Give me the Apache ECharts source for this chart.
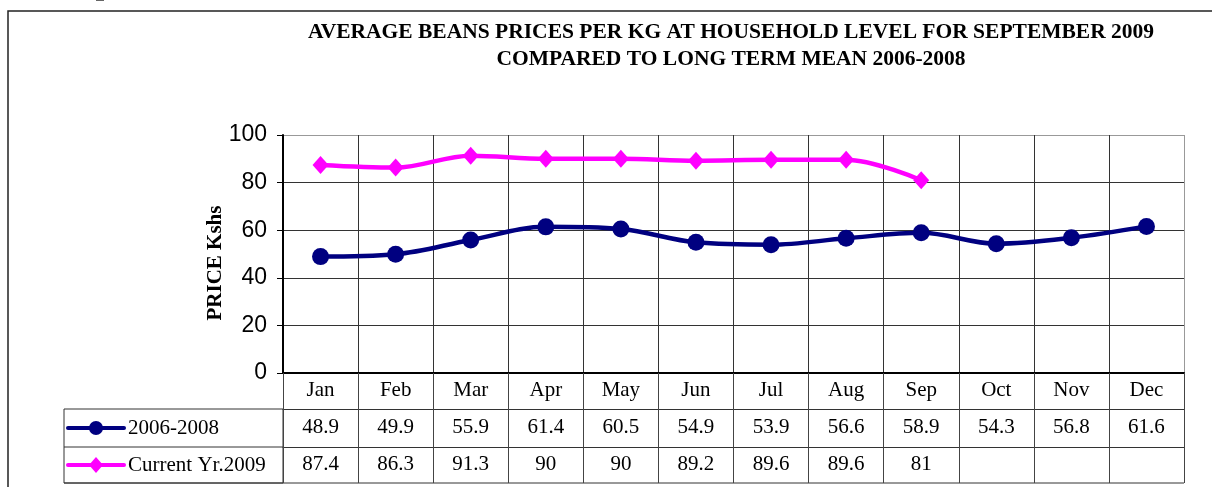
<!DOCTYPE html>
<html>
<head>
<meta charset="utf-8">
<script src="https://cdn.jsdelivr.net/npm/echarts@6/dist/echarts.min.js"></script>
<style>
  html, body { margin: 0; padding: 0; background: #fff; }
  #chart { width: 1212px; height: 487px; }
</style>
</head>
<body>
<div id="chart"></div>
<script>
// chart data
var months = ['Jan', 'Feb', 'Mar', 'Apr', 'May', 'Jun', 'Jul', 'Aug', 'Sep', 'Oct', 'Nov', 'Dec']
var longTerm = [48.9, 49.9, 55.9, 61.4, 60.5, 54.9, 53.9, 56.6, 58.9, 54.3, 56.8, 61.6]
var current2009 = [87.4, 86.3, 91.3, 90, 90, 89.2, 89.6, 89.6, 81]
var yTicks = [0, 20, 40, 60, 80, 100]
var seriesNames = ['2006-2008', 'Current Yr.2009']
var titleLines = ['AVERAGE BEANS PRICES PER KG AT HOUSEHOLD LEVEL FOR SEPTEMBER 2009',
                  'COMPARED TO LONG TERM MEAN 2006-2008']

var serif = "'Liberation Serif', 'Times New Roman', serif"
var sans = "'Liberation Sans', Arial, sans-serif"
var navy = '#000080', magenta = '#ff00ff'

var myChart = echarts.init(document.getElementById('chart'))

// plot area and table rows
var gl = 283, gt = 135, gr = 1184, gb = 373
var rowH = [36, 38, 36]
var row1Mid = gb + rowH[0] + rowH[1] / 2
var row2Mid = gb + rowH[0] + rowH[1] + rowH[2] / 2

function cellText(arr) {
  return function (val, idx) {
    return arr[idx] === undefined ? '' : String(arr[idx])
  }
}

function tableAxis(offset, len, margin, fmt) {
  return {
    type: 'category', data: months, position: 'bottom', offset: offset,
    boundaryGap: true,
    axisLine: { show: true, lineStyle: { color: '#333', width: 1 } },
    axisTick: { show: true, length: len, interval: 0, lineStyle: { color: '#444', width: 1 } },
    axisLabel: { interval: 0, margin: margin, color: '#000', fontFamily: serif, fontSize: 21, formatter: fmt },
    splitLine: { show: false }
  }
}

var vLineColors = []
for (var i = 0; i <= months.length; i++) vLineColors.push(i === months.length ? '#999' : '#333')

var option = {
  animation: false,
  grid: { left: gl, top: gt, right: 1212 - gr, bottom: 487 - gb, containLabel: false },
  xAxis: [
    {
      type: 'category', data: months, position: 'bottom', boundaryGap: true,
      axisLine: { show: true, lineStyle: { color: '#000', width: 2 } },
      axisTick: { show: true, length: rowH[0], interval: 0, lineStyle: { color: '#444', width: 1 } },
      axisLabel: { interval: 0, margin: 7, color: '#000', fontFamily: serif, fontSize: 21 },
      splitLine: { show: true, interval: 0, lineStyle: { color: vLineColors, width: 1 } }
    },
    tableAxis(rowH[0], rowH[1], 8, cellText(longTerm)),
    tableAxis(rowH[0] + rowH[1], rowH[2], 7, cellText(current2009))
  ],
  yAxis: {
    type: 'value', min: 0, max: 100, interval: 20,
    name: 'PRICE Kshs', nameLocation: 'middle', nameGap: 57, nameMoveOverlap: false,
    nameTextStyle: { fontFamily: serif, fontSize: 21, fontWeight: 'bold', color: '#000', padding: [0, 18, 0, 0] },
    axisLine: { show: true, lineStyle: { color: '#000', width: 2 } },
    axisTick: { show: true, length: 6, lineStyle: { color: '#000' } },
    axisLabel: {
      margin: 16, color: '#000', fontFamily: sans, fontSize: 23,
      formatter: function (v) { return yTicks.indexOf(v) >= 0 ? String(v) : '' }
    },
    splitLine: { show: true, lineStyle: { color: ['#000', '#333', '#333', '#333', '#333', '#999'], width: 1 } }
  },
  series: [
    {
      name: seriesNames[0], type: 'line', data: longTerm, smooth: 0.35,
      symbol: 'circle', symbolSize: 17,
      lineStyle: { color: navy, width: 4.5 },
      itemStyle: { color: navy }
    },
    {
      name: seriesNames[1], type: 'line', data: current2009, smooth: 0.35,
      symbol: 'diamond', symbolSize: [16, 18],
      lineStyle: { color: magenta, width: 4.5 },
      itemStyle: { color: magenta }
    }
  ],
  graphic: [
    // outer chart frame
    { type: 'rect', shape: { x: 8, y: 11, width: 1300, height: 600 }, style: { fill: 'none', stroke: '#222', lineWidth: 1.5 }, silent: true },
    { type: 'rect', shape: { x: 96, y: 0, width: 8, height: 1 }, style: { fill: '#666' }, silent: true },
    // title
    { type: 'text', x: 731, y: 32, style: { text: titleLines[0], textAlign: 'center', textVerticalAlign: 'middle', font: 'bold 21.5px ' + serif, fill: '#000' } },
    { type: 'text', x: 731, y: 59.5, style: { text: titleLines[1], textAlign: 'center', textVerticalAlign: 'middle', font: 'bold 21.5px ' + serif, fill: '#000' } },
    // legend cells of the data table
    { type: 'rect', shape: { x: 64, y: gb + rowH[0], width: gl - 64, height: rowH[1] + rowH[2] }, style: { fill: 'none', stroke: '#333', lineWidth: 1 }, silent: true, z: -1 },
    { type: 'line', shape: { x1: 64, y1: gb + rowH[0] + rowH[1], x2: gl, y2: gb + rowH[0] + rowH[1] }, style: { stroke: '#333', lineWidth: 1 }, silent: true },
    { type: 'line', shape: { x1: 64, y1: gb + rowH[0] + rowH[1] + rowH[2], x2: gr, y2: gb + rowH[0] + rowH[1] + rowH[2] }, style: { stroke: '#333', lineWidth: 1 }, silent: true },
    { type: 'line', shape: { x1: 68, y1: row1Mid, x2: 124, y2: row1Mid }, style: { stroke: navy, lineWidth: 4, lineCap: 'round' }, silent: true },
    { type: 'circle', shape: { cx: 96, cy: row1Mid, r: 7 }, style: { fill: navy }, silent: true },
    { type: 'text', x: 128, y: row1Mid, style: { text: seriesNames[0], textVerticalAlign: 'middle', font: '21px ' + serif, fill: '#000' } },
    { type: 'line', shape: { x1: 68, y1: row2Mid, x2: 124, y2: row2Mid }, style: { stroke: magenta, lineWidth: 4, lineCap: 'round' }, silent: true },
    { type: 'polygon', shape: { points: [[96, row2Mid - 8], [103, row2Mid], [96, row2Mid + 8], [89, row2Mid]] }, style: { fill: magenta }, silent: true },
    { type: 'text', x: 128, y: row2Mid, style: { text: seriesNames[1], textVerticalAlign: 'middle', font: '21px ' + serif, fill: '#000' } }
  ]
}

myChart.setOption(option)
</script>
</body>
</html>
